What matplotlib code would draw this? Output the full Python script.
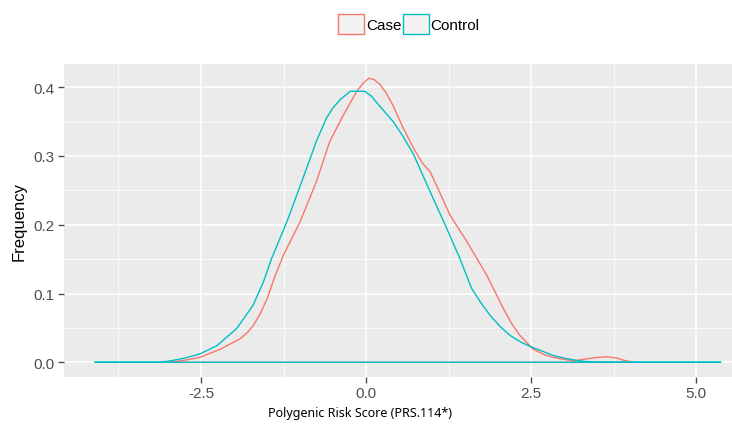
import matplotlib
matplotlib.use('Agg')
import matplotlib.pyplot as plt
from matplotlib.patches import Patch

plt.rcParams['font.family'] = ['Liberation Sans', 'DejaVu Sans']

# density outlines (x = PRS, y = density)
case_x = [-2.97, -2.75, -2.52, -2.21, -1.91, -1.80, -1.71, -1.60, -1.50, -1.38,
          -1.25, -1.00, -0.75, -0.55, -0.34, -0.14, -0.05, 0.04, 0.12, 0.21,
          0.30, 0.41, 0.55, 0.72, 0.85, 0.97, 1.12, 1.27, 1.53, 1.83,
          2.08, 2.20, 2.33, 2.53, 2.70, 2.84, 3.14, 3.34, 3.50, 3.65, 3.80, 3.90, 4.05]
case_y = [0.0, 0.003, 0.007, 0.019, 0.034, 0.043, 0.053, 0.071, 0.092, 0.125,
          0.156, 0.204, 0.263, 0.321, 0.360, 0.394, 0.405, 0.413, 0.411, 0.404,
          0.392, 0.373, 0.343, 0.311, 0.290, 0.277, 0.246, 0.214, 0.175, 0.126,
          0.078, 0.057, 0.039, 0.019, 0.011, 0.007, 0.002, 0.005, 0.007, 0.008, 0.006, 0.003, 0.0]

control_x = [-4.10, -3.10, -2.97, -2.75, -2.52, -2.26, -1.96, -1.71, -1.55, -1.43,
             -1.20, -1.05, -0.90, -0.75, -0.60, -0.50, -0.39, -0.24, -0.02, 0.08,
             0.21, 0.41, 0.55, 0.72, 0.97, 1.22, 1.42, 1.60, 1.75, 1.88,
             2.03, 2.18, 2.35, 2.51, 2.84, 3.05, 3.24, 3.45, 5.37]
control_y = [0.0, 0.0, 0.002, 0.006, 0.012, 0.024, 0.049, 0.083, 0.118, 0.151,
             0.204, 0.243, 0.282, 0.322, 0.355, 0.370, 0.382, 0.394, 0.394, 0.387,
             0.372, 0.350, 0.330, 0.302, 0.248, 0.195, 0.151, 0.107, 0.085, 0.068,
             0.052, 0.039, 0.029, 0.022, 0.0097, 0.005, 0.002, 0.0, 0.0]

groups = ['Case', 'Control']
colors = ['#F8766D', '#00BFC4']
x_ticks = [-2.5, 0.0, 2.5, 5.0]
y_ticks = [0.0, 0.1, 0.2, 0.3, 0.4]

fig = plt.figure(figsize=(7.32, 4.35), dpi=100)
W, H = 732, 435
# panel runs past the right edge of the picture, as in the original crop
ax = fig.add_axes([64 / W, (H - 377.5) / H, 688 / W, (377.5 - 65) / H])

ax.set_facecolor('#EBEBEB')
for s in ax.spines.values():
    s.set_visible(False)

series = [(case_x, case_y), (control_x, control_y)]
for (xs, ys), col in zip(series, colors):
    # outline incl. the baseline, like geom_density
    ax.plot(xs + [xs[-1], xs[0]], ys + [0, 0], color=col, lw=1.0)

xmin = min(control_x + case_x)
xmax = max(control_x + case_x)
pad = 0.05 * (xmax - xmin)
ax.set_xlim(xmin - pad, xmax + pad)
ymax = max(case_y)
ax.set_ylim(-0.05 * ymax, ymax * 1.05)

ax.set_xticks(x_ticks)
ax.set_xticklabels(['-2.5', '0.0', '2.5', '5.0'])
ax.set_yticks(y_ticks)
ax.set_yticklabels(['0.0', '0.1', '0.2', '0.3', '0.4'])
ax.set_xticks([-3.75, -1.25, 1.25, 3.75], minor=True)
ax.set_yticks([0.05, 0.15, 0.25, 0.35], minor=True)
ax.grid(True, which='major', color='white', lw=1.1)
ax.grid(True, which='minor', color='white', lw=0.55)
ax.set_axisbelow(True)
ax.tick_params(which='major', length=4, width=1, color='#4D4D4D',
               labelcolor='#4D4D4D', labelsize=11, pad=3)
ax.tick_params(which='minor', length=0)

ax.set_xlabel('Polygenic Risk Score (PRS.114*)', family=['Noto Sans', 'DejaVu Sans'],
              fontsize=9)
ax.xaxis.set_label_coords((360 - 64) / 688, -0.095)
ax.set_ylabel('Frequency', fontsize=12, labelpad=5)

handles = [Patch(facecolor='#F2F2F2', edgecolor=c, lw=1.0, label=g)
           for g, c in zip(groups, colors)]
fig.legend(handles=handles, loc='center', bbox_to_anchor=(409 / W, 1 - 25 / H),
           ncol=2, frameon=False, fontsize=11, handlelength=1.7, handleheight=1.7,
           handletextpad=0.1, columnspacing=0.1)

fig.savefig('out.png', dpi=100)
